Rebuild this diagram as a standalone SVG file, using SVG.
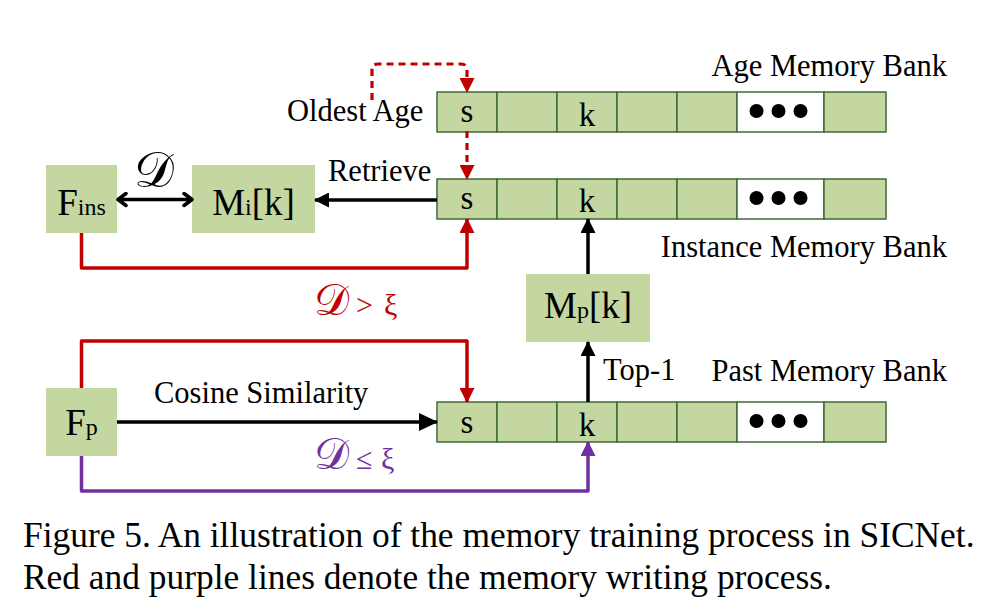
<svg xmlns="http://www.w3.org/2000/svg" width="988" height="614" viewBox="0 0 988 614">
<style>
  text { font-family: "Liberation Serif", "Times New Roman", serif; fill: #000; }
  .lbl { font-size: 30.5px; }
  .cell { fill: #c4d7a0; stroke: #3f6a38; stroke-width: 1.5; }
  .cellw { fill: #ffffff; stroke: #3f6a38; stroke-width: 1.5; }
  .ck { font-size: 33px; text-anchor: middle; }
  .node { fill: #c4d7a0; }
  .big { font-size: 37px; }
  .sub { font-size: 24px; }
  .cal { font-family: "DejaVu Sans", "Noto Sans", serif; }
  .blk { fill: none; stroke: #000; stroke-width: 3.5; }
  .red { fill: none; stroke: #c00000; stroke-width: 3.5; stroke-linejoin: round; }
  .redd { fill: none; stroke: #c00000; stroke-width: 3.2; stroke-dasharray: 7 5; }
  .pur { fill: none; stroke: #7030a0; stroke-width: 3.5; stroke-linejoin: round; }
</style>
<defs>
  <marker id="ab" markerUnits="userSpaceOnUse" viewBox="0 0 15 15" markerWidth="15" markerHeight="15" refX="14" refY="7.5" orient="auto"><path d="M0,0 L15,7.5 L0,15 z" fill="#000"/></marker>
  <marker id="abL" markerUnits="userSpaceOnUse" viewBox="0 0 19 18" markerWidth="19" markerHeight="18" refX="18" refY="9" orient="auto"><path d="M0,0 L19,9 L0,18 z" fill="#000"/></marker>
  <marker id="ar" markerUnits="userSpaceOnUse" viewBox="0 0 15 15" markerWidth="15" markerHeight="15" refX="14" refY="7.5" orient="auto"><path d="M0,0 L15,7.5 L0,15 z" fill="#c00000"/></marker>
  <marker id="ap" markerUnits="userSpaceOnUse" viewBox="0 0 15 15" markerWidth="15" markerHeight="15" refX="14" refY="7.5" orient="auto"><path d="M0,0 L15,7.5 L0,15 z" fill="#7030a0"/></marker>
  <marker id="ch" markerUnits="userSpaceOnUse" viewBox="0 0 12 16" markerWidth="12" markerHeight="16" refX="10" refY="8" orient="auto-start-reverse"><path d="M2,2 L10,8 L2,14" fill="none" stroke="#000" stroke-width="3.5" stroke-linecap="round" stroke-linejoin="round"/></marker>
  <g id="rowcells">
    <rect class="cell" x="437" y="0" width="60" height="40"/>
    <rect class="cell" x="497" y="0" width="60" height="40"/>
    <rect class="cell" x="557" y="0" width="60" height="40"/>
    <rect class="cell" x="617" y="0" width="60" height="40"/>
    <rect class="cell" x="677" y="0" width="60" height="40"/>
    <rect class="cellw" x="737" y="0" width="87" height="40"/>
    <rect class="cell" x="824" y="0" width="62" height="40"/>
    <circle cx="756.5" cy="19" r="7" fill="#000"/>
    <circle cx="778.5" cy="19" r="7" fill="#000"/>
    <circle cx="800.5" cy="19" r="7" fill="#000"/>
  </g>
</defs>

<g id="age-bank">
  <use href="#rowcells" y="92"/>
  <text class="ck" x="467" y="121.5">s</text>
  <text class="ck" x="587" y="126">k</text>
  <text class="lbl" x="947" y="76" text-anchor="end">Age Memory Bank</text>
  <text class="lbl" x="287" y="121">Oldest Age</text>
</g>

<g id="instance-bank">
  <use href="#rowcells" y="179"/>
  <text class="ck" x="467" y="208.5">s</text>
  <text class="ck" x="587" y="212">k</text>
  <text class="lbl" x="947" y="257" text-anchor="end">Instance Memory Bank</text>
</g>

<g id="past-bank">
  <use href="#rowcells" y="402"/>
  <text class="ck" x="467" y="433">s</text>
  <text class="ck" x="587" y="436">k</text>
  <text class="lbl" x="947" y="381" text-anchor="end">Past Memory Bank</text>
</g>

<g id="node-fins">
  <rect class="node" x="46" y="165" width="71" height="68"/>
  <text x="81.5" y="215" text-anchor="middle"><tspan class="big">F</tspan><tspan class="sub">ins</tspan></text>
</g>

<g id="node-mik">
  <rect class="node" x="192" y="165" width="123" height="68"/>
  <text x="253.5" y="215" text-anchor="middle"><tspan class="big">M</tspan><tspan class="sub">i</tspan><tspan class="big">[k]</tspan></text>
</g>

<g id="node-fp">
  <rect class="node" x="46" y="388" width="71" height="68"/>
  <text x="81.5" y="435" text-anchor="middle"><tspan class="big">F</tspan><tspan class="sub">p</tspan></text>
</g>

<g id="node-mpk">
  <rect class="node" x="526" y="274" width="124" height="68"/>
  <text x="588" y="318" text-anchor="middle"><tspan class="big">M</tspan><tspan class="sub">p</tspan><tspan class="big">[k]</tspan></text>
</g>

<g id="connectors">
  <path class="redd" d="M372,100 V70 Q372,64 378,64 H461 Q467,64 467,70 V92" marker-end="url(#ar)"/>
  <path class="redd" d="M467,131 V179" marker-end="url(#ar)"/>
  <path class="blk" d="M437,200 H315" marker-end="url(#ab)"/>
  <path class="blk" d="M118,199.5 H192" marker-start="url(#ch)" marker-end="url(#ch)"/>
  <path class="red" d="M81.5,233 V268 H467 V219" marker-end="url(#ar)"/>
  <path class="red" d="M81.5,388 V341 H467 V402" marker-end="url(#ar)"/>
  <path class="pur" d="M81.5,456 V491 H588 V442" marker-end="url(#ap)"/>
  <path class="blk" d="M117,422 H437" marker-end="url(#abL)"/>
  <path class="blk" d="M588,402 V342" marker-end="url(#ab)"/>
  <path class="blk" d="M588,274 V219" marker-end="url(#ab)"/>
  <text class="lbl" x="328" y="181">Retrieve</text>
  <text class="lbl" x="154" y="403">Cosine Similarity</text>
  <text class="lbl" x="603" y="380">Top-1</text>
  <text x="134" y="187" class="cal" font-size="50">𝒟</text>
  <text y="315" style="fill:#c00000"><tspan x="314" class="cal" font-size="44">𝒟</tspan><tspan x="356" font-size="30">&gt;</tspan><tspan x="384" font-size="30">ξ</tspan></text>
  <text y="469" style="fill:#7030a0"><tspan x="314" class="cal" font-size="44">𝒟</tspan><tspan x="356" font-size="30">≤</tspan><tspan x="381" font-size="30">ξ</tspan></text>
</g>

<g id="caption">
  <text x="23" y="547" font-size="35.4">Figure 5. An illustration of the memory training process in SICNet.</text>
  <text x="23" y="589" font-size="35.4">Red and purple lines denote the memory writing process.</text>
</g>
</svg>
